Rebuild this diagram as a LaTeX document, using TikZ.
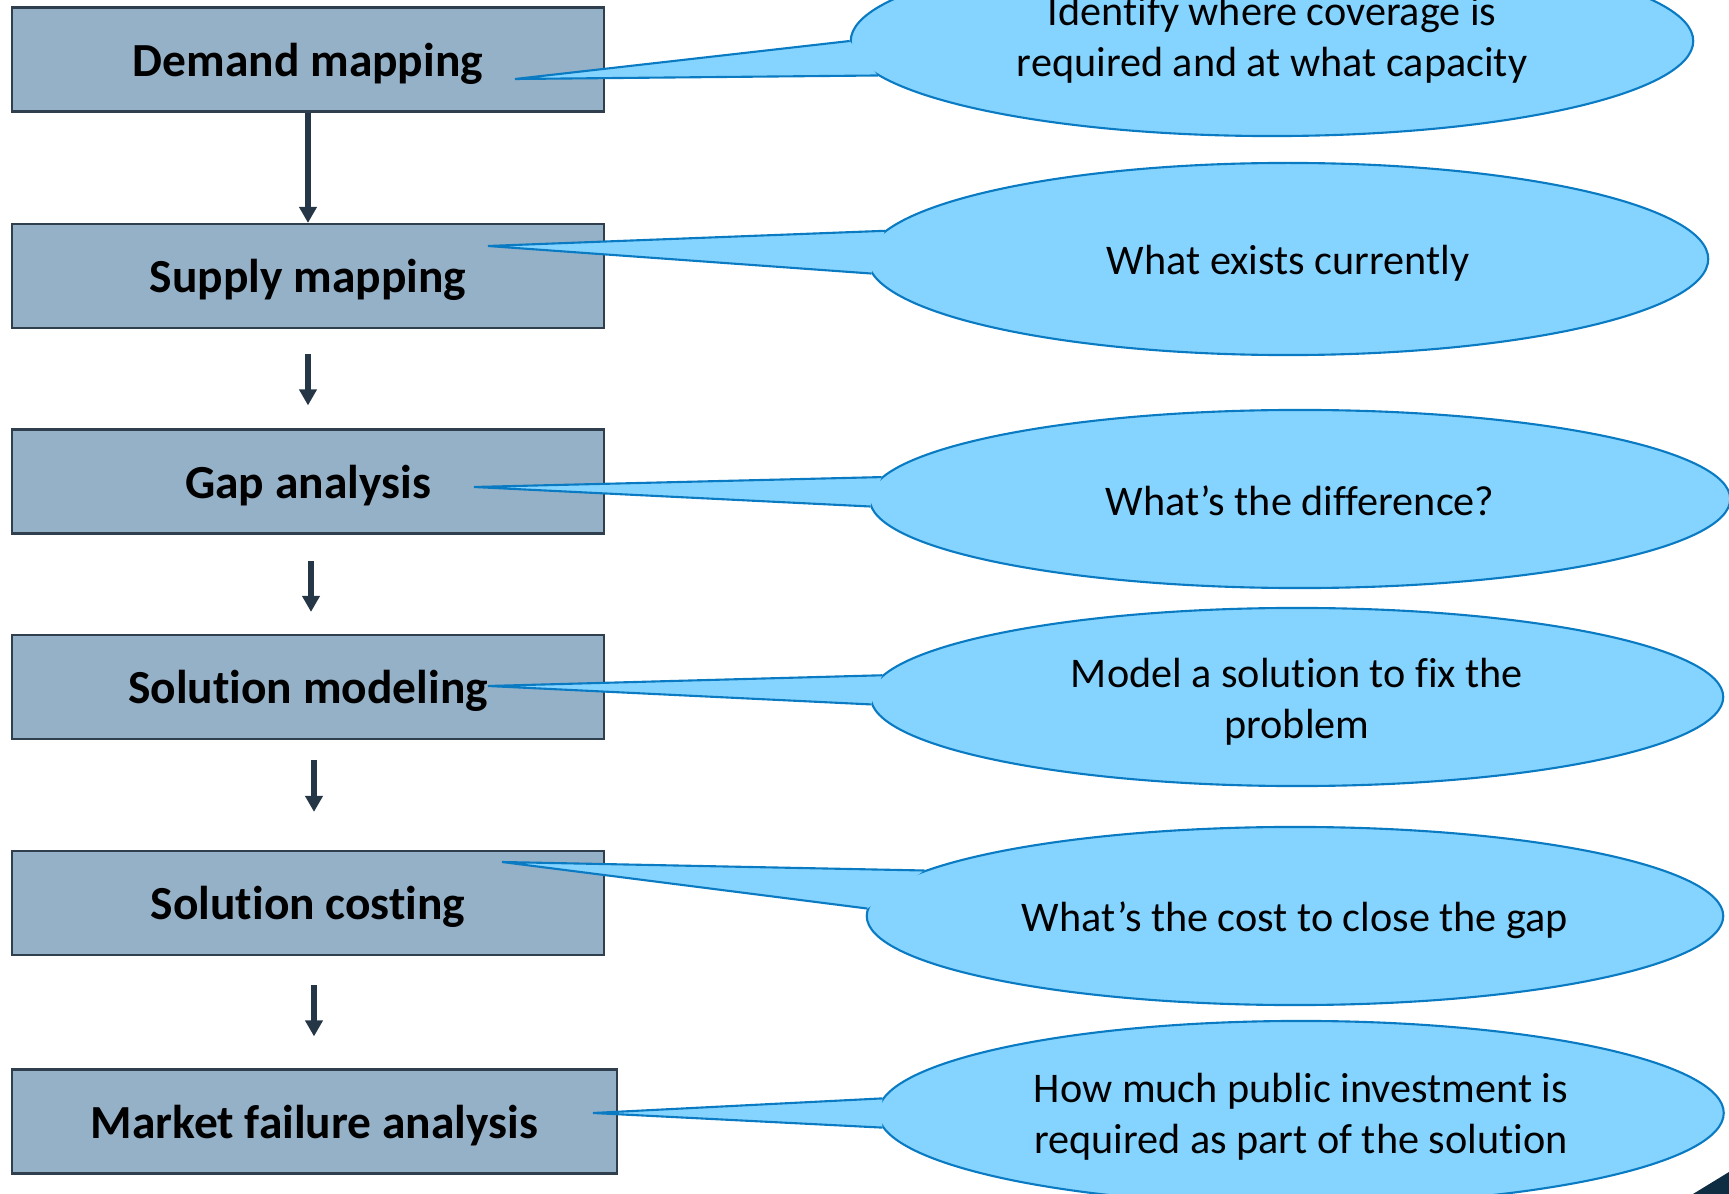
\documentclass[tikz,border=0pt]{standalone}
\usepackage{fontspec}
\setmainfont{Carlito}[Ligatures=NoCommon]
\usepackage{tikz}
\usetikzlibrary{shapes.geometric}
\usetikzlibrary{arrows.meta}
\definecolor{boxfill}{HTML}{95B1C8}
\definecolor{boxline}{HTML}{2F3F4E}
\definecolor{bubblefill}{HTML}{84D4FF}
\definecolor{bubbleline}{HTML}{0A7BC2}
\definecolor{arrowcol}{HTML}{253746}
\definecolor{cornercol}{HTML}{0E2C42}
\tikzset{
  stage/.style={draw=boxline, fill=boxfill, line width=0.6pt, inner sep=0pt,
    minimum width=59.2mm, minimum height=10.4mm, text height=10.8pt, text depth=1.35pt,
    font=\fontsize{13.5}{16}\selectfont\bfseries},
  bubble/.style={ellipse, draw=bubbleline, fill=bubblefill, line width=0.6pt, inner sep=0pt},
  note/.style={align=center, inner sep=0pt, font=\fontsize{12}{14.4}\selectfont},
  flow/.style={draw=arrowcol, line width=1.5pt, -{Triangle[length=1.6mm, width=1.7mm]}}
}
% wedge from a bubble (#1) to a tip (#2), leaving the bubble at angles #3 and #4
\newcommand{\callout}[4]{\fill[bubblefill] (#2) -- (#1.#3) -- (#1.#4) -- cycle; \draw[bubbleline, line width=0.6pt] (#1.#3) -- (#2) -- (#1.#4);}

\begin{document}
\begin{tikzpicture}[x=0.01cm, y=-0.01cm]
    \useasboundingbox (0,0) rectangle (1729,1194);
    % stages
    \node[stage] (s1) at (308,59.5) {Demand mapping};
    \node[stage] (s2) at (308,276) {Supply mapping};
    \node[stage] (s3) at (308,481.5) {Gap analysis};
    \node[stage] (s4) at (308,687) {Solution modeling};
    \node[stage] (s5) at (308,903) {Solution costing};
    \node[stage, minimum width=60.5mm] (s6) at (314.5,1121.5) {Market failure analysis};
    % arrows
    \draw[flow] (s1.south) -- (s2.north);
    \draw[flow, shorten <=2.5mm, shorten >=2.3mm] (s2.south) -- (s2.south |- s3.north);
    \draw[flow, shorten <=2.6mm, shorten >=2.2mm] ([xshift=0.3mm]s3.south) -- ([xshift=0.3mm]s3.south |- s4.north);
    \draw[flow, shorten <=2.0mm, shorten >=3.8mm] ([xshift=0.6mm]s4.south) -- ([xshift=0.6mm]s4.south |- s5.north);
    \draw[flow, shorten <=2.9mm, shorten >=3.2mm] ([xshift=0.6mm]s5.south) -- ([xshift=0.6mm]s5.south |- s6.north);
    % callouts
    \node[bubble, minimum width=84.2mm, minimum height=19mm] (c1) at (1272,41) {};
    \node[bubble, minimum width=84mm, minimum height=19.2mm] (c2) at (1288,259) {};
    \node[bubble, minimum width=86mm, minimum height=17.8mm] (c3) at (1300,499) {};
    \node[bubble, minimum width=85.2mm, minimum height=17.8mm] (c4) at (1297,697) {};
    \node[bubble, minimum width=85.6mm, minimum height=17.8mm] (c5) at (1295,916) {};
    \node[bubble, minimum width=84.5mm, minimum height=18.4mm] (c6) at (1301,1113) {};
    \coordinate (t1) at (515,79);
    \coordinate (t2) at (488,246);
    \coordinate (t3) at (474,487);
    \coordinate (t4) at (488,686);
    \coordinate (t5) at (502,862);
    \coordinate (t6) at (593,1113);
    \callout{c1}{t1}{180}{185}
    \callout{c2}{t2}{176}{182}
    \callout{c3}{t3}{177}{181}
    \callout{c4}{t4}{177}{181}
    \callout{c5}{t5}{173}{179}
    \callout{c6}{t6}{178}{182}
    \node[note] (n1) at ([yshift=0.1mm]c1) {Identify where coverage is\\required and at what capacity};
    \node[note] (n2) at ([yshift=-0.45mm]c2) {What exists currently};
    \node[note] (n3) at ([yshift=-0.15mm]c3) {What’s the difference?};
    \node[note] (n4) at ([yshift=-0.5mm]c4) {Model a solution to fix the\\problem};
    \node[note] (n5) at ([yshift=-0.45mm]c5) {What’s the cost to close the gap};
    \node[note] (n6) at ([yshift=-0.35mm]c6) {How much public investment is\\required as part of the solution};
    % corner
    \fill[cornercol] (1693,1194) -- (1729,1172) -- (1729,1194) -- cycle;
\end{tikzpicture}
\end{document}
